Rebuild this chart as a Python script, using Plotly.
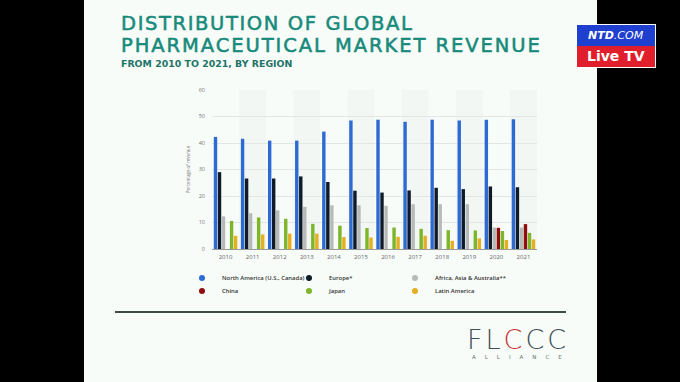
import plotly.graph_objects as go

# ---------------- data ----------------
years = ["2010", "2011", "2012", "2013", "2014", "2015",
         "2016", "2017", "2018", "2019", "2020", "2021"]
north_america = [42.3, 41.6, 40.9, 40.9, 44.3, 48.5, 48.8, 48.0, 48.8, 48.5, 48.8, 49.0]
europe = [29.0, 26.6, 26.6, 27.4, 25.3, 22.0, 21.3, 22.1, 23.1, 22.6, 23.6, 23.3]
africa_asia_australia = [12.3, 13.5, 14.6, 15.9, 16.5, 16.5, 16.3, 16.9, 16.9, 16.9, 8.1, 8.1]
china = [None, None, None, None, None, None, None, None, None, None, 8.0, 9.4]
japan = [10.6, 11.9, 11.4, 9.5, 8.8, 7.9, 8.1, 7.6, 7.1, 7.0, 6.8, 6.1]
latin_america = [5.0, 5.5, 5.8, 5.8, 4.5, 4.3, 4.6, 5.0, 3.1, 4.0, 3.4, 3.6]

series_names = ["North America (U.S., Canada)", "Europe*", "Africa, Asia & Australia**",
                "China", "Japan", "Latin America"]
series_values = [north_america, europe, africa_asia_australia, china, japan, latin_america]
series_colors = ["#2D6BD3", "#0F1B28", "#B8BAB9", "#8E0E0E", "#7DB52B", "#E6AE22"]
y_ticks = [0, 10, 20, 30, 40, 50, 60]

# ---------------- geometry helpers ----------------
W, H = 680, 382
L, R, T, B = 212, 537, 90, 249   # plot area in pixels


def xp(px):
    return (px - L) / (R - L)


def yp(py):
    return (B - py) / (B - T)


fig = go.Figure()

for name, vals, col in zip(series_names, series_values, series_colors):
    fig.add_trace(go.Bar(x=years, y=vals, name=name, marker_color=col,
                         marker_line_width=0, showlegend=False,
                         hoverinfo="x+y+name"))

# legend entries: one small legend per entry (3 columns x 2 rows)
legend_ids = ["legend", "legend2", "legend3", "legend4", "legend5", "legend6"]
for name, col, lid in zip(series_names, series_colors, legend_ids):
    fig.add_trace(go.Scatter(x=[None], y=[None], mode="markers", name=name,
                             marker=dict(color=col, size=6, symbol="circle"),
                             legend=lid, showlegend=True))

shapes = []
# slide background
shapes.append(dict(type="rect", xref="paper", yref="paper", x0=xp(84), x1=xp(597),
                   y0=yp(H + 2), y1=yp(-2), fillcolor="#F7FCF8", line_width=0, layer="below"))
# alternating category bands
for i in range(1, len(years), 2):
    shapes.append(dict(type="rect", xref="x", yref="paper", x0=i - 0.5, x1=i + 0.5,
                       y0=0, y1=1, fillcolor="rgba(0,0,0,0.02)", line_width=0,
                       layer="below"))
# divider line
shapes.append(dict(type="line", xref="paper", yref="paper", x0=xp(115), x1=xp(566),
                   y0=yp(312), y1=yp(312), line=dict(color="#3E4B45", width=2)))
# NTD logo
shapes.append(dict(type="rect", xref="paper", yref="paper", x0=xp(576), x1=xp(656),
                   y0=yp(68), y1=yp(24), fillcolor="#FFFFFF", line_width=0))
shapes.append(dict(type="rect", xref="paper", yref="paper", x0=xp(577), x1=xp(655),
                   y0=yp(46), y1=yp(25), fillcolor="#1F3FCF", line_width=0))
shapes.append(dict(type="rect", xref="paper", yref="paper", x0=xp(577), x1=xp(655),
                   y0=yp(67), y1=yp(46), fillcolor="#E11E2B", line_width=0))

TEAL = "#178A7B"
TITLE_STYLE = "stroke:#178A7B;stroke-width:0.55px;letter-spacing:{}px"
annotations = [
    dict(text="<span style='" + TITLE_STYLE.format(1.62) + "'>DISTRIBUTION OF GLOBAL</span>",
         x=xp(119), y=yp(10), xanchor="left", yanchor="top",
         font=dict(family="DejaVu Sans", size=19.5, color=TEAL)),
    dict(text="<span style='" + TITLE_STYLE.format(1.93) + "'>PHARMACEUTICAL MARKET REVENUE</span>",
         x=xp(119), y=yp(31.5), xanchor="left", yanchor="top",
         font=dict(family="DejaVu Sans", size=19.5, color=TEAL)),
    dict(text="<b>FROM 2010 TO 2021, BY REGION</b>", x=xp(119), y=yp(56), xanchor="left",
         yanchor="top", font=dict(family="DejaVu Sans", size=9.4, color="#1F7468")),
    dict(text="<b><i>NTD</i></b><i>.COM</i>", x=xp(616), y=yp(35.5), xanchor="center",
         yanchor="middle", font=dict(family="DejaVu Sans", size=11, color="white")),
    dict(text="<b>Live TV</b>", x=xp(616), y=yp(56.5), xanchor="center", yanchor="middle",
         font=dict(family="DejaVu Sans", size=14, color="white")),
    dict(text="<span style='letter-spacing:3px'>FL</span>"
              "<span style='letter-spacing:3px;color:#C8363A'>C</span>"
              "<span style='letter-spacing:3px'>CC</span>",
         x=xp(518), y=yp(339), xanchor="center", yanchor="middle",
         font=dict(family="DejaVu Sans", size=27, color="#3F4D55", weight=300)),
    dict(text="<span style='letter-spacing:9px'>ALLIANCE</span>",
         x=xp(521.5), y=yp(357), xanchor="center", yanchor="middle",
         font=dict(family="DejaVu Sans", size=5.5, color="#6A6F72")),
]
for a in annotations:
    a.update(xref="paper", yref="paper", showarrow=False)

legend_common = dict(orientation="v", xanchor="left", yanchor="top",
                     bgcolor="rgba(0,0,0,0)", borderwidth=0, itemwidth=30,
                     font=dict(family="Open Sans", size=5.9, color="#333333", weight=600))
dot_x = [202, 309, 415]
row_y = [263.5, 276.5]
legend_layout = {}
for k, lid in enumerate(legend_ids):
    legend_layout[lid] = dict(x=xp(dot_x[k % 3] - 20), y=yp(row_y[k // 3]), **legend_common)

fig.update_layout(
    width=W, height=H,
    margin=dict(l=L, r=W - R, t=T, b=H - B, pad=0, autoexpand=False),
    paper_bgcolor="#000000",
    plot_bgcolor="rgba(0,0,0,0)",
    barmode="group", bargap=0.11, bargroupgap=0.15,
    shapes=shapes, annotations=annotations,
    xaxis=dict(type="category", showgrid=False, showline=True, linecolor="#9A9A9A",
               linewidth=1, ticks="", ticklabelstandoff=2,
               tickfont=dict(family="Open Sans", size=6, color="#666666"),
               fixedrange=True),
    yaxis=dict(range=[0, 60], tickvals=y_ticks, ticksuffix="%", showgrid=True,
               gridcolor="#E4E6E5", gridwidth=1, zeroline=False, showline=False, ticks="",
               ticklabelstandoff=6,
               tickfont=dict(family="Open Sans", size=5.5, color="#777777"),
               title=dict(text="Percentage of revenue", standoff=8,
                          font=dict(family="Open Sans", size=4.5, color="#777777")),
               fixedrange=True),
    showlegend=True,
    **legend_layout,
)

fig.write_html("out.html", config={"displayModeBar": False},
               post_script="document.body.style.margin='0';document.body.style.background='#000';")
